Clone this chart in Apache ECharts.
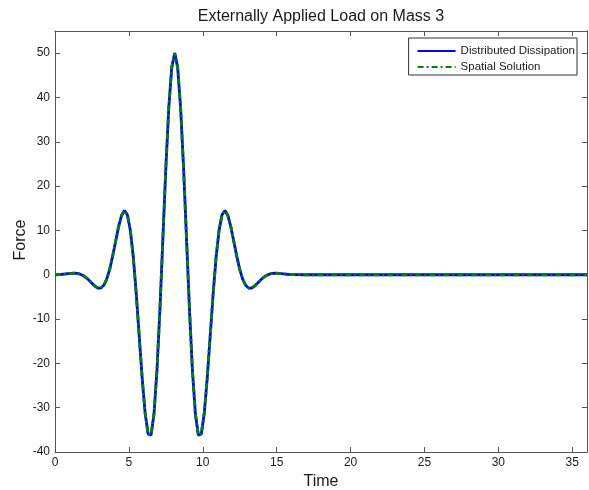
<!DOCTYPE html>
<html>
<head>
<meta charset="utf-8">
<script src="https://cdn.jsdelivr.net/npm/echarts@6/dist/echarts.min.js"></script>
<style>
  html, body { margin: 0; padding: 0; background: #fff; }
  #chart { width: 589px; height: 490px; }
</style>
</head>
<body>
<div id="chart"></div>
<script>
// Sample times (s) of the load history on mass 3
const time = [
  0, 0.1, 0.3, 0.5, 0.7, 0.9, 1.1, 1.3, 1.5, 1.7, 1.9,
  2.1, 2.3, 2.5, 2.7, 2.9, 3.1, 3.3, 3.5, 3.7, 3.9,
  4.1, 4.3, 4.5, 4.7, 4.9, 5.1, 5.3, 5.5, 5.7, 5.9,
  6.1, 6.3, 6.5, 6.7, 6.9, 7.1, 7.3, 7.5, 7.7, 7.9,
  8.1, 8.3, 8.5, 8.7, 8.9, 9.1, 9.3, 9.5, 9.7, 9.9,
  10.1, 10.3, 10.5, 10.7, 10.9, 11.1, 11.3, 11.5, 11.7, 11.9,
  12.1, 12.3, 12.5, 12.7, 12.9, 13.1, 13.3, 13.5, 13.7, 13.9,
  14.1, 14.3, 14.5, 14.7, 14.9, 15.1, 15.3, 15.5, 15.7, 15.9,
  16.1, 17, 20, 25, 30, 36
];

// Force from the distributed-dissipation model
const distributedDissipation = [
  0, 0.01, 0.05, 0.11, 0.18, 0.26, 0.32, 0.34, 0.30, 0.13, -0.17,
  -0.64, -1.24, -1.93, -2.57, -2.99, -3.00, -2.39, -1.01, 1.21, 4.15,
  7.51, 10.80, 13.36, 14.48, 13.50, 10.00, 3.91, -4.36, -13.90, -23.40,
  -31.26, -35.95, -36.20, -31.37, -21.59, -7.84, 8.13, 24.10, 37.68, 46.79,
  50.00, 46.79, 37.68, 24.10, 8.13, -7.84, -21.59, -31.37, -36.20, -35.95,
  -31.26, -23.40, -13.90, -4.36, 3.91, 10.00, 13.50, 14.48, 13.36, 10.80,
  7.51, 4.15, 1.21, -1.01, -2.39, -3.00, -2.99, -2.57, -1.93, -1.24,
  -0.64, -0.17, 0.13, 0.30, 0.34, 0.32, 0.26, 0.18, 0.11, 0.05,
  0.01, 0, 0, 0, 0, 0
];

// Force from the spatial solution (coincides with the curve above)
const spatialSolution = distributedDissipation.slice();

const seriesNames = ['Distributed Dissipation', 'Spatial Solution'];
const xTicks = [0, 5, 10, 15, 20, 25, 30, 35];
const yTicks = [-40, -30, -20, -10, 0, 10, 20, 30, 40, 50];

const FONT = '"Liberation Sans", Arial, Helvetica, sans-serif';
const AXIS_COLOR = '#555';
const TEXT_COLOR = '#1a1a1a';

const toPairs = (xs, ys) => xs.map((x, i) => [x, ys[i]]);

function tickFormatter(list) {
  return v => (list.indexOf(+v.toFixed(6)) >= 0 ? String(v) : '');
}

const baseAxis = {
  type: 'value',
  splitLine: { show: false },
  axisLine: { show: true, onZero: false, lineStyle: { color: AXIS_COLOR, width: 1 } },
  axisTick: { show: true, inside: true, length: 5, lineStyle: { color: AXIS_COLOR } }
};

const chart = echarts.init(document.getElementById('chart'), null, { renderer: 'canvas' });

chart.setOption({
  animation: false,
  backgroundColor: '#fff',
  grid: {
    left: 55, right: 2, top: 31, bottom: 38,
    containLabel: false,
    outerBoundsMode: 'none'
  },
  graphic: [
    {
      type: 'text',
      style: {
        text: 'Externally Applied Load on Mass 3',
        x: 321, y: 17,
        align: 'center', verticalAlign: 'middle',
        font: '16px ' + FONT,
        fill: TEXT_COLOR
      }
    },
    {
      // y-axis title, rotated to read bottom-to-top
      type: 'text',
      x: 21, y: 240,
      rotation: Math.PI / 2,
      style: {
        text: 'Force',
        x: 0, y: 0,
        align: 'center', verticalAlign: 'middle',
        font: '16px ' + FONT,
        fill: TEXT_COLOR
      }
    }
  ],
  legend: {
    orient: 'vertical',
    right: 12,
    top: 38,
    padding: [7, 2, 2, 8],
    itemGap: 4,
    itemWidth: 38,
    itemHeight: 12,
    backgroundColor: '#fff',
    borderColor: '#333',
    borderWidth: 1,
    borderRadius: 0,
    // line-only keys: hide the marker glyph drawn in the middle of each key
    itemStyle: { opacity: 0 },
    textStyle: { fontFamily: FONT, fontSize: 11.5, color: TEXT_COLOR },
    data: seriesNames
  },
  xAxis: [
    Object.assign({}, baseAxis, {
      position: 'bottom',
      min: 0, max: 36, interval: 5,
      name: 'Time',
      nameLocation: 'middle',
      nameGap: 20,
      nameTextStyle: { fontFamily: FONT, fontSize: 16, color: TEXT_COLOR },
      axisLabel: {
        show: true, margin: 5, fontFamily: FONT, fontSize: 12, color: TEXT_COLOR,
        showMaxLabel: false, formatter: tickFormatter(xTicks)
      }
    }),
    Object.assign({}, baseAxis, {
      position: 'top',
      min: 0, max: 36, interval: 5,
      axisLabel: { show: false }
    })
  ],
  yAxis: [
    Object.assign({}, baseAxis, {
      position: 'left',
      min: -40, max: 55, interval: 10,
      axisLabel: {
        show: true, margin: 5, fontFamily: FONT, fontSize: 12, color: TEXT_COLOR,
        showMaxLabel: false, formatter: tickFormatter(yTicks)
      }
    }),
    Object.assign({}, baseAxis, {
      position: 'right',
      min: -40, max: 55, interval: 10,
      axisLabel: { show: false }
    })
  ],
  series: [
    {
      name: seriesNames[0],
      type: 'line',
      xAxisIndex: 0, yAxisIndex: 0,
      symbol: 'none',
      lineStyle: { color: '#0000ff', width: 2.8, type: 'solid' },
      itemStyle: { color: '#0000ff' },
      data: toPairs(time, distributedDissipation),
      z: 2
    },
    {
      name: seriesNames[1],
      type: 'line',
      xAxisIndex: 0, yAxisIndex: 0,
      symbol: 'none',
      lineStyle: { color: '#008000', width: 2.8, type: [6, 3, 2, 3] },
      itemStyle: { color: '#008000' },
      data: toPairs(time, spatialSolution),
      z: 3
    }
  ]
});
</script>
</body>
</html>
